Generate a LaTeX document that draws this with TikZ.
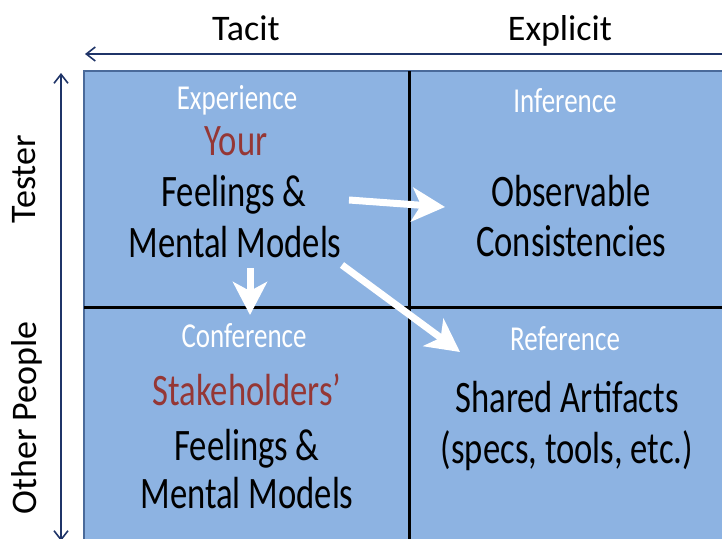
\documentclass[tikz,border=0pt]{standalone}
\usepackage{fontspec}
\setmainfont{Carlito}
\newfontfamily\hand[FakeStretch=0.77]{Carlito}
\usetikzlibrary{arrows.meta}
\definecolor{cellfill}{HTML}{8DB3E2}
\definecolor{cellborder}{HTML}{4A6A9A}
\definecolor{navy}{HTML}{1F3468}
\definecolor{redtxt}{HTML}{953735}
\begin{document}
\begin{tikzpicture}[x=1pt,y=-1pt,
  axislabel/.style={font=\fontsize{36}{40}\selectfont, anchor=base, inner sep=0pt},
  celllabel/.style={font=\hand\fontsize{35}{38}\selectfont, text=white, anchor=base, inner sep=0pt},
  bigtext/.style={font=\hand\fontsize{45}{50}\selectfont, anchor=base, inner sep=0pt},
  redtext/.style={bigtext, text=redtxt},
  axisarrow/.style={draw=navy, line width=1.6pt, {Straight Barb[length=9pt,width=14pt]}-{Straight Barb[length=9pt,width=14pt]}},
  flow/.style={draw=white, line width=7pt, -{Stealth[length=33pt,width=34pt,inset=9pt]}},
  divider/.style={draw=black, line width=3pt}
]
\clip (0,0) rectangle (722,538);
\fill[white] (0,0) rectangle (722,538);

% grid
\draw[fill=cellfill, draw=cellborder, line width=2.5pt] (84,71) rectangle (760,580);
\draw[divider] (409,71) -- (409,580);
\draw[divider] (84,307) -- (760,307);

% axes
\coordinate (hR) at (760,54);
\coordinate (hL) at (85,54);
\coordinate (vB) at (61,541);
\coordinate (vT) at (61,73);
\draw[axisarrow] (hR) -- (hL);
\draw[axisarrow] (vB) -- (vT);

\node[axislabel] (tacit) at (246,40) {Tacit};
\node[axislabel] (explicit) at (560,40) {Explicit};
\node[axislabel, rotate=90] (tester) at (35,179) {Tester};
\node[axislabel, rotate=90] (other) at (36,418) {Other People};

% top-left
\node[celllabel] (experience) at (237,109) {Experience};
\node[redtext] (your) at (236,155) {Your};
\node[bigtext] (feel1) at (234,206) {Feelings \&};
\node[bigtext] (mental1) at (235,257) {Mental Models};

% top-right
\node[celllabel] (inference) at (565,112) {Inference};
\node[bigtext] (observable) at (571,206) {Observable};
\node[bigtext] (consist) at (571,256) {Consistencies};

% bottom-left
\node[celllabel] (conference) at (244,347) {Conference};
\node[redtext] (stake) at (247,405) {Stakeholders’};
\node[bigtext] (feel2) at (247,460) {Feelings \&};
\node[bigtext] (mental2) at (247,508) {Mental Models};

% bottom-right
\node[celllabel] (reference) at (565,350) {Reference};
\node[bigtext] (shared) at (567,412) {Shared Artifacts};
\node[bigtext] (specs) at (567,463) {(specs, tools, etc.)};

% flow arrows
\coordinate (a1s) at (349,200);
\coordinate (a1e) at (445,207);
\coordinate (a2s) at (250,268);
\coordinate (a2e) at (250,315);
\coordinate (a3s) at (342,265);
\coordinate (a3e) at (460,352);
\draw[flow] (a1s) -- (a1e);
\draw[flow] (a2s) -- (a2e);
\draw[flow] (a3s) -- (a3e);
\end{tikzpicture}
\end{document}
